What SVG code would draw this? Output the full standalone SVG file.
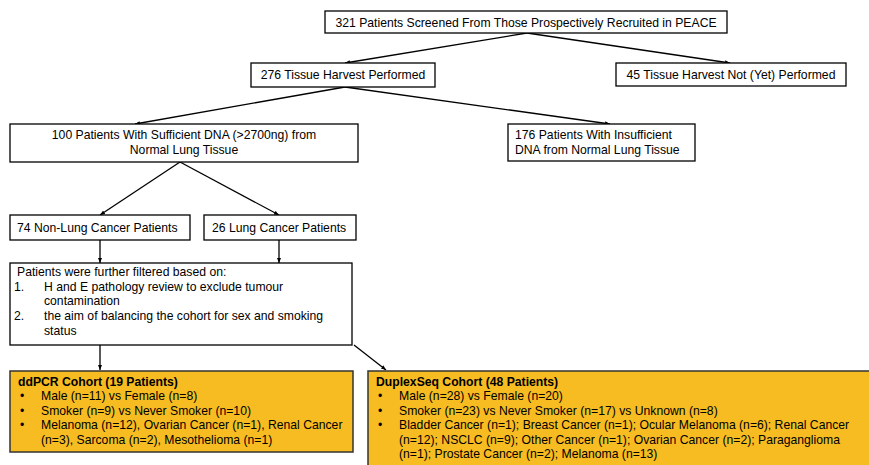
<svg xmlns="http://www.w3.org/2000/svg" width="869" height="465" viewBox="0 0 869 465">
<defs>
<marker id="ah" viewBox="0 0 10 10" refX="10" refY="5" markerWidth="5" markerHeight="5" orient="auto" markerUnits="userSpaceOnUse">
<path d="M0,1 L10,5 L0,9 z" fill="#000"/>
</marker>
<style>
.box{fill:#fff;stroke:#000;stroke-width:1.3}
.cbox{fill:#F6BC22;stroke:#333;stroke-width:1.5}
text{font-family:"Liberation Sans",Arial,sans-serif;font-size:12.2px;fill:#000}
.c{text-anchor:middle}
.b{font-weight:bold}
.ln{stroke:#000;stroke-width:1.3;fill:none;marker-end:url(#ah)}
</style>
</defs>
<rect width="869" height="465" fill="#fff"/>
<g id="connectors">
<line class="ln" x1="527" y1="33" x2="345" y2="63"/>
<line class="ln" x1="527" y1="33" x2="730" y2="63"/>
<line class="ln" x1="345" y1="87" x2="135" y2="124"/>
<line class="ln" x1="345" y1="87" x2="610" y2="124"/>
<line class="ln" x1="180" y1="162" x2="100" y2="215"/>
<line class="ln" x1="180" y1="162" x2="279" y2="215"/>
<line class="ln" x1="100" y1="240" x2="100" y2="263"/>
<line class="ln" x1="279" y1="240" x2="279" y2="263"/>
<line class="ln" x1="100" y1="345" x2="100" y2="370"/>
<line class="ln" x1="354" y1="345" x2="386" y2="370"/>
</g>
<g id="n1">
<rect class="box" x="325" y="11" width="402" height="22"/>
<text class="c" x="526" y="26.5">321 Patients Screened From Those Prospectively Recruited in PEACE</text>
</g>
<g id="n2">
<rect class="box" x="251" y="63" width="184" height="24"/>
<text class="c" x="343" y="79">276 Tissue Harvest Performed</text>
</g>
<g id="n3">
<rect class="box" x="616" y="63" width="230" height="23"/>
<text class="c" x="731" y="78.5">45 Tissue Harvest Not (Yet) Performed</text>
</g>
<g id="n4">
<rect class="box" x="10" y="124" width="348" height="38"/>
<text class="c" x="184" y="139">100 Patients With Sufficient DNA (&gt;2700ng) from</text>
<text class="c" x="184" y="154">Normal Lung Tissue</text>
</g>
<g id="n5">
<rect class="box" x="508" y="124" width="187" height="37"/>
<text x="515" y="139">176 Patients With Insufficient</text>
<text x="515" y="154">DNA from Normal Lung Tissue</text>
</g>
<g id="n6">
<rect class="box" x="10" y="215" width="180" height="25"/>
<text x="17" y="232">74 Non-Lung Cancer Patients</text>
</g>
<g id="n7">
<rect class="box" x="204" y="215" width="152" height="25"/>
<text x="212" y="232">26 Lung Cancer Patients</text>
</g>
<g id="n8">
<rect class="box" x="10" y="263" width="342" height="82"/>
<text x="17" y="276">Patients were further filtered based on:</text>
<text x="14" y="291">1.</text>
<text x="44" y="291">H and E pathology review to exclude tumour</text>
<text x="44" y="305">contamination</text>
<text x="14" y="320">2.</text>
<text x="44" y="320">the aim of balancing the cohort for sex and smoking</text>
<text x="44" y="335">status</text>
</g>
<g id="n9">
<rect class="cbox" x="10" y="371" width="343" height="81"/>
<text class="b" x="18" y="386">ddPCR Cohort (19 Patients)</text>
<text x="20" y="400">•</text>
<text x="41" y="400">Male (n=11) vs Female (n=8)</text>
<text x="20" y="414.5">•</text>
<text x="41" y="414.5">Smoker (n=9) vs Never Smoker (n=10)</text>
<text x="20" y="429">•</text>
<text x="41" y="429">Melanoma (n=12), Ovarian Cancer (n=1), Renal Cancer</text>
<text x="41" y="443.5">(n=3), Sarcoma (n=2), Mesothelioma (n=1)</text>
</g>
<g id="n10">
<rect class="cbox" x="368" y="371" width="510" height="100"/>
<text class="b" x="376" y="386">DuplexSeq Cohort (48 Patients)</text>
<text x="378" y="400">•</text>
<text x="399" y="400">Male (n=28) vs Female (n=20)</text>
<text x="378" y="414.5">•</text>
<text x="399" y="414.5">Smoker (n=23) vs Never Smoker (n=17) vs Unknown (n=8)</text>
<text x="378" y="429">•</text>
<text x="399" y="429">Bladder Cancer (n=1); Breast Cancer (n=1); Ocular Melanoma (n=6); Renal Cancer</text>
<text x="399" y="443.5">(n=12); NSCLC (n=9); Other Cancer (n=1); Ovarian Cancer (n=2); Paraganglioma</text>
<text x="399" y="458">(n=1); Prostate Cancer (n=2); Melanoma (n=13)</text>
</g>
</svg>
